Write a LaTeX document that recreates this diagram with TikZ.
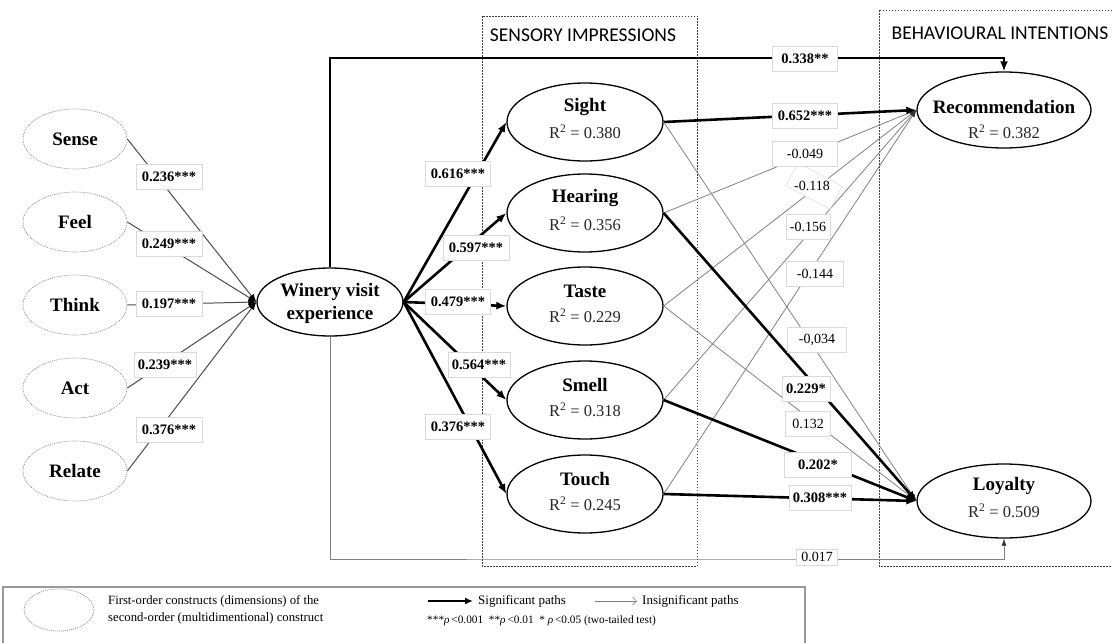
\documentclass[tikz,border=0pt]{standalone}
\usepackage{fontspec}
\setmainfont{Liberation Serif}
\newfontfamily\headfont{Carlito}
\usetikzlibrary{shapes.geometric,arrows.meta}
\begin{document}
\begin{tikzpicture}[x=1pt,y=-1pt,
  every node/.style={inner sep=0pt},
  dimn/.style={ellipse, draw=black!45, dash pattern=on 1pt off 1pt, line width=0.7pt, minimum width=104pt, minimum height=60pt, font=\fontsize{19}{21}\selectfont\bfseries},
  latn/.style={ellipse, draw=black, line width=1.3pt},
  nm/.style={font=\fontsize{19}{23}\selectfont\bfseries},
  rsq/.style={font=\fontsize{16.5}{18}\selectfont, text=black!85},
  lbl/.style={draw=black!15, fill=white, line width=0.6pt, inner xsep=4pt, minimum height=25pt, font=\fontsize{14}{16}\selectfont},
  blbl/.style={lbl, font=\fontsize{14.5}{16}\selectfont\bfseries},
  sig/.style={line width=2.6pt, -{Latex[length=10pt,width=8pt]}},
  ins/.style={draw=black!50, line width=0.8pt, -{Latex[length=7pt,width=5pt,color=black!80]}},
  inl/.style={draw=black!70, line width=1pt, -{Latex[length=8pt,width=6pt,color=black]}},
  grp/.style={draw=black!75, line width=0.7pt, dash pattern=on 1.5pt off 1.5pt},
  head/.style={font=\headfont\fontsize{19.5}{21}\selectfont},
  leg/.style={font=\fontsize{12.7}{17}\selectfont, align=left, anchor=west},
]
\useasboundingbox (0,0) rectangle (1112,643);

% group boxes
\draw[grp] (482,16) rectangle (697,566);
\draw[grp] (879,10) rectangle (1116,566);
\node[head] (sensH) at (583,35) {SENSORY IMPRESSIONS};
\node[head] (behH) at (1000,33) {BEHAVIOURAL INTENTIONS};

% first-order dimensions
\node[dimn] (sense) at (75,139) {Sense};
\node[dimn] (feel) at (75,222) {Feel};
\node[dimn] (think) at (75,305) {Think};
\node[dimn] (act) at (75,388) {Act};
\node[dimn] (relate) at (75,471) {Relate};

% second-order construct
\node[latn, minimum width=146pt, minimum height=68pt] (wve) at (330,302) {};
\node[nm, align=center] (wveT) at (330,303) {Winery visit\\experience};

% sensory impressions
\node[latn, minimum width=156pt, minimum height=78pt] (sight) at (585,122) {};
\node[nm] (sightN) at (585,107) {Sight};
\node[rsq] (sightR) at (585,132) {R\textsuperscript{2} = 0.380};
\node[latn, minimum width=156pt, minimum height=78pt] (hear) at (585,213) {};
\node[nm] (hearN) at (585,198) {Hearing};
\node[rsq] (hearR) at (585,224) {R\textsuperscript{2} = 0.356};
\node[latn, minimum width=156pt, minimum height=78pt] (taste) at (585,306) {};
\node[nm] (tasteN) at (585,291) {Taste};
\node[rsq] (tasteR) at (585,316) {R\textsuperscript{2} = 0.229};
\node[latn, minimum width=156pt, minimum height=78pt] (smell) at (585,400) {};
\node[nm] (smellN) at (585,385) {Smell};
\node[rsq] (smellR) at (585,410) {R\textsuperscript{2} = 0.318};
\node[latn, minimum width=156pt, minimum height=78pt] (touch) at (585,494) {};
\node[nm] (touchN) at (585,479) {Touch};
\node[rsq] (touchR) at (585,504) {R\textsuperscript{2} = 0.245};

% behavioural intentions
\node[latn, minimum width=174pt, minimum height=76pt] (rec) at (1004,110) {};
\node[nm] (recN) at (1004,107) {Recommendation};
\node[rsq] (recR) at (1004,132) {R\textsuperscript{2} = 0.382};
\node[latn, minimum width=174pt, minimum height=74pt] (loy) at (1004,501) {};
\node[nm] (loyN) at (1004,486) {Loyalty};
\node[rsq] (loyR) at (1004,511) {R\textsuperscript{2} = 0.509};

% dimension paths
\draw[inl] (sense.east) -- (wve.west);
\draw[inl] (feel.east) -- (wve.west);
\draw[inl] (think.east) -- (wve.west);
\draw[inl] (act.east) -- (wve.west);
\draw[inl] (relate.east) -- (wve.west);

% experience -> senses
\draw[sig] (wve.east) -- (sight.west);
\draw[sig] (wve.east) -- (hear.west);
\draw[sig] (wve.east) -- (taste.west);
\draw[sig] (wve.east) -- (smell.west);
\draw[sig] (wve.east) -- (touch.west);

% direct paths
\coordinate (topc) at (600,58);
\coordinate (botc) at (600,559);
\draw[sig] (wve.north) |- (topc) -| (rec.north);
\draw[ins] (wve.south) |- (botc) -| (loy.south);

% senses -> recommendation
\draw[ins] (hear.east) -- (rec.west);
\draw[ins] (taste.east) -- (rec.west);
\draw[ins] (smell.east) -- (rec.west);
\draw[ins] (touch.east) -- (rec.west);
\draw[sig] (sight.east) -- (rec.west);

% senses -> loyalty
\draw[ins] (sight.east) -- (loy.west);
\draw[ins] (taste.east) -- (loy.west);
\draw[sig] (hear.east) -- (loy.west);
\draw[sig] (smell.east) -- (loy.west);
\draw[sig] (touch.east) -- (loy.west);

% labels
\node[blbl, minimum width=66pt] (l1) at (169,177) {0.236***};
\node[blbl, minimum width=66pt] (l2) at (169,244) {0.249***};
\node[blbl, minimum width=66pt] (l3) at (169,304) {0.197***};
\node[blbl, minimum width=58pt] (l4) at (165,365) {0.239***};
\node[blbl, minimum width=66pt] (l5) at (169,430) {0.376***};

\node[blbl, minimum width=65pt] (s1) at (458,174) {0.616***};
\node[blbl, minimum width=66pt] (s2) at (476,248) {0.597***};
\node[blbl, minimum width=65pt] (s3) at (458,302) {0.479***};
\node[blbl, minimum width=60pt] (s4) at (479,365) {0.564***};
\node[blbl, minimum width=65pt] (s5) at (458,427) {0.376***};

\node[blbl, minimum width=65pt] (d1) at (805,59) {0.338**};
\node[blbl, minimum width=65pt] (r1) at (805,116) {0.652***};
\node[lbl, draw=black!12, rotate=-28, minimum width=50pt, minimum height=26pt] (r3b) at (814,186) {};
\node[font=\fontsize{14}{16}\selectfont] (r3) at (812,186) {-0.118};
\node[lbl, minimum width=65pt] (r2) at (805,154) {-0.049};
\node[lbl, minimum width=42pt] (r4) at (808,227) {-0.156};
\node[lbl, minimum width=57pt] (r5) at (815,274) {-0.144};

\node[lbl, minimum width=59pt] (o1) at (817,340) {-0,034};
\node[blbl, minimum width=42pt] (o2) at (806,389) {0.229*};
\node[lbl, minimum width=45pt] (o3) at (808,424) {0.132};
\node[blbl, minimum width=67pt] (o4) at (818,465) {0.202*};
\node[blbl, minimum width=62pt] (o5) at (820,498) {0.308***};
\node[lbl, minimum width=41pt, minimum height=16pt] (d2) at (817,557) {0.017};

% legend
\draw[draw=black!40, line width=1.5pt] (3,587) rectangle (805,650);
\node[dimn, minimum width=70pt, minimum height=42pt] (legE) at (59,610) {};
\node[leg] (legT) at (108,610) {First-order constructs (dimensions) of the\\second-order (multidimentional) construct};
\coordinate (ls1) at (428,601);
\coordinate (ls2) at (473,601);
\draw[line width=2.2pt, -{Latex[length=8pt,width=7pt]}] (ls1) -- (ls2);
\node[leg, font=\fontsize{13}{17}\selectfont] (legS) at (478,601) {Significant paths};
\coordinate (li1) at (595,601);
\coordinate (li2) at (637,601);
\draw[draw=black!50, line width=0.7pt, -{Straight Barb[length=4pt,width=8pt]}] (li1) -- (li2);
\node[leg, font=\fontsize{13}{17}\selectfont] (legI) at (642,601) {Insignificant paths};
\node[leg, font=\fontsize{11.3}{14}\selectfont] (legP) at (427,621) {***{\itshape ρ}\,<0.001\enspace **{\itshape ρ}\,<0.01\enspace * {\itshape ρ}\,<0.05 (two-tailed test)};
\end{tikzpicture}
\end{document}
